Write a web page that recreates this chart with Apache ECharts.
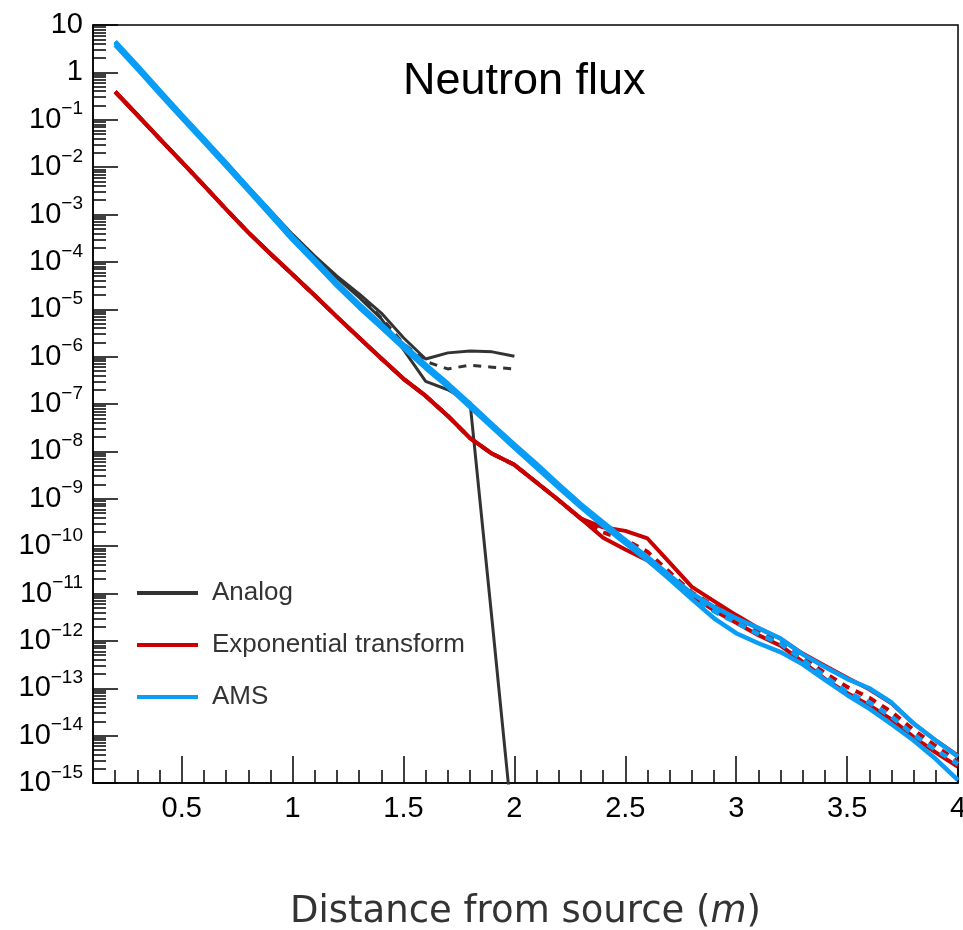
<!DOCTYPE html>
<html>
<head>
<meta charset="utf-8">
<script src="https://cdn.jsdelivr.net/npm/echarts@6/dist/echarts.min.js"></script>
<style>
  html, body { margin: 0; padding: 0; background: #ffffff; }
  #chart { width: 963px; height: 930px; }
</style>
</head>
<body>
<div id="chart"></div>
<script>
// distance from source (m)
var distFull = [0.2, 0.3, 0.4, 0.5, 0.6, 0.7, 0.8, 0.9, 1.0,
  1.1, 1.2, 1.3, 1.4, 1.5, 1.6, 1.7, 1.8, 1.9, 2.0,
  2.1, 2.2, 2.3, 2.4, 2.5, 2.6, 2.7, 2.8, 2.9, 3.0,
  3.1, 3.2, 3.3, 3.4, 3.5, 3.6, 3.7, 3.8, 3.9, 4.0]
var distAnalog = [0.2, 0.3, 0.4, 0.5, 0.6, 0.7, 0.8, 0.9, 1.0,
  1.1, 1.2, 1.3, 1.4, 1.5, 1.6, 1.7, 1.8, 1.9, 2.0]

// Analog: upper / lower bound (solid) and mean (dashed)
var analogUpper = [4.4, 1.35, 4.2e-1, 1.29e-1, 4.0e-2, 1.26e-2, 3.8e-3, 1.2e-3, 3.8e-4,
  1.32e-4, 5.0e-5, 2.1e-5, 8.3e-6, 2.5e-6, 8.9e-7, 1.2e-6, 1.32e-6, 1.26e-6, 1.02e-6]
var analogMean = [4.3, 1.3, 4.0e-1, 1.23e-1, 3.8e-2, 1.2e-2, 3.6e-3, 1.15e-3, 3.6e-4,
  1.26e-4, 4.8e-5, 2.0e-5, 6.6e-6, 1.9e-6, 7.9e-7, 5.5e-7, 6.6e-7, 6.0e-7, 5.5e-7]
var analogLower = [4.0, 1.23, 3.8e-1, 1.17e-1, 3.6e-2, 1.15e-2, 3.5e-3, 1.1e-3, 3.5e-4,
  1.2e-4, 4.6e-5, 1.78e-5, 6.3e-6, 1.4e-6, 3.0e-7, 2.0e-7, 1.07e-7, 2.5e-12, 5e-17]

// Exponential transform
var expMean = [3.9e-1, 1.26e-1, 4.0e-2, 1.29e-2, 4.1e-3, 1.29e-3, 4.2e-4, 1.48e-4, 5.4e-5,
  1.95e-5, 6.9e-6, 2.5e-6, 9.1e-7, 3.4e-7, 1.48e-7, 5.6e-8, 1.9e-8, 8.9e-9, 5.2e-9,
  2.2e-9, 9.3e-10, 3.8e-10, 1.95e-10, 1.35e-10, 7.6e-11, 2.8e-11, 1.05e-11, 5.5e-12, 3.0e-12,
  1.58e-12, 9.3e-13, 4.4e-13, 2.1e-13, 1.07e-13, 6.3e-14, 3.2e-14, 1.32e-14, 6.0e-15, 2.8e-15]
var expUpper = [3.9e-1, 1.26e-1, 4.0e-2, 1.29e-2, 4.1e-3, 1.29e-3, 4.2e-4, 1.48e-4, 5.4e-5,
  1.95e-5, 6.9e-6, 2.5e-6, 9.1e-7, 3.4e-7, 1.48e-7, 5.6e-8, 1.9e-8, 8.9e-9, 5.2e-9,
  2.2e-9, 9.3e-10, 3.8e-10, 2.5e-10, 2.1e-10, 1.45e-10, 4.5e-11, 1.38e-11, 6.9e-12, 3.5e-12,
  1.86e-12, 1.12e-12, 5.4e-13, 3.0e-13, 1.66e-13, 9.5e-14, 4.8e-14, 1.8e-14, 7.9e-15, 3.8e-15]
var expLower = [3.9e-1, 1.26e-1, 4.0e-2, 1.29e-2, 4.1e-3, 1.29e-3, 4.2e-4, 1.48e-4, 5.4e-5,
  1.95e-5, 6.9e-6, 2.5e-6, 9.1e-7, 3.4e-7, 1.48e-7, 5.6e-8, 1.9e-8, 8.9e-9, 5.2e-9,
  2.2e-9, 9.3e-10, 3.8e-10, 1.5e-10, 8.5e-11, 5.0e-11, 2.1e-11, 8.9e-12, 4.4e-12, 2.4e-12,
  1.32e-12, 7.9e-13, 3.6e-13, 1.58e-13, 7.9e-14, 4.4e-14, 2.2e-14, 9.3e-15, 4.4e-15, 2.2e-15]

// AMS
var amsMean = [4.2, 1.3, 3.9e-1, 1.2e-1, 3.7e-2, 1.15e-2, 3.5e-3, 1.07e-3, 3.2e-4,
  1.05e-4, 3.4e-5, 1.2e-5, 4.5e-6, 1.66e-6, 6.3e-7, 2.5e-7, 9.5e-8, 3.5e-8, 1.3e-8,
  5.0e-9, 1.86e-9, 7.2e-10, 3.0e-10, 1.26e-10, 5.5e-11, 2.2e-11, 8.9e-12, 4.2e-12, 2.4e-12,
  1.4e-12, 8.7e-13, 4.0e-13, 1.8e-13, 8.3e-14, 5.0e-14, 2.5e-14, 1.05e-14, 5.0e-15, 2.5e-15]
var amsUpper = [4.5, 1.4, 4.2e-1, 1.28e-1, 4.0e-2, 1.23e-2, 3.7e-3, 1.15e-3, 3.4e-4,
  1.12e-4, 3.6e-5, 1.28e-5, 4.8e-6, 1.78e-6, 6.8e-7, 2.7e-7, 1.02e-7, 3.7e-8, 1.4e-8,
  5.4e-9, 2.0e-9, 7.7e-10, 3.2e-10, 1.35e-10, 5.9e-11, 2.4e-11, 1.0e-11, 5.2e-12, 3.0e-12,
  1.86e-12, 1.12e-12, 5.2e-13, 2.8e-13, 1.58e-13, 1.0e-13, 5.0e-14, 1.8e-14, 7.9e-15, 3.6e-15]
var amsLower = [3.8, 1.18, 3.55e-1, 1.09e-1, 3.4e-2, 1.05e-2, 3.2e-3, 9.7e-4, 2.9e-4,
  9.6e-5, 3.1e-5, 1.09e-5, 4.1e-6, 1.51e-6, 5.7e-7, 2.3e-7, 8.6e-8, 3.2e-8, 1.18e-8,
  4.5e-9, 1.7e-9, 6.6e-10, 2.7e-10, 1.15e-10, 5.0e-11, 2.0e-11, 7.6e-12, 3.0e-12, 1.45e-12,
  8.9e-13, 5.8e-13, 3.2e-13, 1.5e-13, 7.2e-14, 3.7e-14, 1.74e-14, 7.9e-15, 3.2e-15, 1.15e-15]

// ticks
var xMajorTicks = [0.5, 1, 1.5, 2, 2.5, 3, 3.5, 4]
var xMinorTicks = [0.2, 0.3, 0.4, 0.6, 0.7, 0.8, 0.9, 1.1, 1.2, 1.3, 1.4,
  1.6, 1.7, 1.8, 1.9, 2.1, 2.2, 2.3, 2.4, 2.6, 2.7, 2.8, 2.9,
  3.1, 3.2, 3.3, 3.4, 3.6, 3.7, 3.8, 3.9]
var yDecades = [1e-15, 1e-14, 1e-13, 1e-12, 1e-11, 1e-10, 1e-9, 1e-8,
  1e-7, 1e-6, 1e-5, 1e-4, 1e-3, 1e-2, 1e-1, 1, 10]
var yMinorTicks = []
for (var d = 0; d < yDecades.length - 1; d++) {
  for (var k = 2; k <= 9; k++) {
    yMinorTicks.push(Number((k * yDecades[d]).toPrecision(3)))
  }
}

var FONT = 'Liberation Sans'
var colAnalog = '#333333'
var colExp = '#c80000'
var colAms = '#0a9df5'

function pairs(xs, ys) {
  return xs.map(function(x, i) { return [x, ys[i]] })
}

function line(name, xs, ys, color, width, dashed) {
  return {
    name: name,
    type: 'line',
    data: pairs(xs, ys),
    showSymbol: false,
    symbol: 'none',
    itemStyle: { color: color },
    lineStyle: { color: color, width: width, type: dashed ? [8, 7] : 'solid', join: 'round' },
    emphasis: { disabled: true }
  }
}

var chart = echarts.init(document.getElementById('chart'))
var option = {
  animation: false,
  backgroundColor: '#ffffff',
  title: {
    text: 'Neutron flux',
    left: 403,
    top: 57,
    padding: 0,
    textStyle: { fontFamily: FONT, fontSize: 45, fontWeight: 'normal', color: '#000', lineHeight: 50 }
  },
  legend: {
    data: ['Analog', 'Exponential transform', 'AMS'],
    orient: 'vertical',
    left: 137,
    top: 579,
    padding: 0,
    icon: 'rect',
    itemWidth: 61,
    itemHeight: 4,
    itemGap: 24,
    textStyle: { fontFamily: FONT, fontSize: 26, lineHeight: 28, color: '#333', padding: [0, 0, 0, 9] }
  },
  grid: {
    left: 93, top: 25, width: 865, height: 758,
    outerBoundsMode: 'none',
    containLabel: false,
    show: true, borderColor: '#000', borderWidth: 1.5
  },
  xAxis: [{
    type: 'value', min: 0.1, max: 4,
    name: 'Distance from source ({i|m})',
    nameLocation: 'middle',
    nameGap: 109,
    nameTextStyle: {
      fontFamily: 'DejaVu Sans', fontSize: 37, lineHeight: 40, color: '#333',
      rich: { i: { fontFamily: 'DejaVu Sans', fontSize: 37, lineHeight: 40, fontStyle: 'italic', color: '#333' } }
    },
    axisLine: { lineStyle: { color: '#000', width: 1.5 } },
    axisTick: { inside: true, length: 27, customValues: xMajorTicks, lineStyle: { color: '#000', width: 1.5 } },
    axisLabel: { customValues: xMajorTicks, margin: 11, fontFamily: FONT, fontSize: 29, color: '#000',
      formatter: function(v) { return String(v) } },
    splitLine: { show: false }
  }, {
    type: 'value', min: 0.1, max: 4, position: 'bottom', gridIndex: 0,
    axisLine: { show: false },
    axisTick: { inside: true, length: 13, customValues: xMinorTicks, lineStyle: { color: '#000', width: 1.5 } },
    axisLabel: { show: false },
    splitLine: { show: false }
  }],
  yAxis: [{
    type: 'log', min: 1e-15, max: 10,
    axisLine: { show: true, lineStyle: { color: '#000', width: 1.5 } },
    axisTick: { show: true, inside: true, length: 25, customValues: yDecades, lineStyle: { color: '#000', width: 1.5 } },
    axisLabel: {
      customValues: yDecades,
      margin: 10,
      formatter: function(v) {
        var e = Math.round(Math.log10(v))
        if (e === 1) return '{b|10}'
        if (e === 0) return '{b|1}'
        return '{b|10}{s|\u2212' + (-e) + '}'
      },
      rich: {
        b: { fontFamily: FONT, fontSize: 29, lineHeight: 40, color: '#000' },
        s: { fontFamily: FONT, fontSize: 19, lineHeight: 19, verticalAlign: 'top', color: '#000' }
      }
    },
    splitLine: { show: false }
  }, {
    type: 'log', min: 1e-15, max: 10, position: 'left', gridIndex: 0,
    axisLine: { show: false },
    axisTick: { show: true, inside: true, length: 13, customValues: yMinorTicks, lineStyle: { color: '#000', width: 1.5 } },
    axisLabel: { show: false },
    splitLine: { show: false }
  }],
  series: [
    line('Analog', distAnalog, analogUpper, colAnalog, 3, false),
    line('Analog', distAnalog, analogLower, colAnalog, 3, false),
    line('Analog', distAnalog, analogMean, colAnalog, 3, true),
    line('Exponential transform', distFull, expUpper, colExp, 4, false),
    line('Exponential transform', distFull, expLower, colExp, 4, false),
    line('Exponential transform', distFull, expMean, colExp, 4, true),
    line('AMS', distFull, amsUpper, colAms, 4.5, false),
    line('AMS', distFull, amsLower, colAms, 4.5, false),
    line('AMS', distFull, amsMean, colAms, 4.5, true)
  ]
}
chart.setOption(option)
window.addEventListener('resize', function() {
  chart.resize()
})
</script>
</body>
</html>
